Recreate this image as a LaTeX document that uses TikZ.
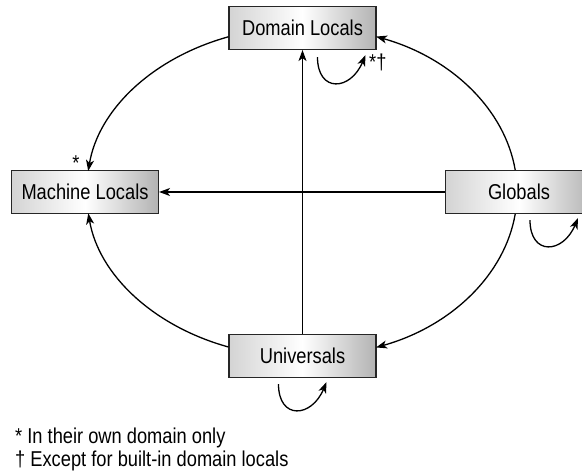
\documentclass[tikz,border=0pt]{standalone}
\usepackage{fontspec}
\setmainfont[FakeStretch=0.85]{Liberation Sans}
\usetikzlibrary{arrows.meta,calc}
\begin{document}
\begin{tikzpicture}[x=1pt,y=1pt,
  box/.style={draw=black!85, line width=1.1pt, minimum width=147pt, minimum height=43pt,
    inner sep=0pt, left color=black!17, right color=black!30, middle color=white,
    font=\fontsize{21.5}{24}\selectfont},
  arr/.style={line width=1.3pt, -{Stealth[length=11pt,width=8pt,inset=3pt]}},
  lbl/.style={font=\fontsize{21.5}{24}\selectfont, inner sep=0pt}
]
\useasboundingbox (0,0) rectangle (582,-473);
\node[box] (dl) at (302.5,-28) {Domain Locals};
\node[box] (ml) at (85,-192) {Machine Locals};
\node[box] (gl) at (519,-192) {Globals};
\node[box] (un) at (302.5,-356) {Universals};
% straight connectors
\draw[arr] (gl.west) -- (ml.east);
\draw[arr] (un.north) -- (dl.south);
% elliptical connectors (centre (302,-192), radii 215 x 165)
\coordinate (dlw) at ([yshift=-8.8pt]dl.west);
\coordinate (dle) at ([yshift=-9.1pt]dl.east);
\coordinate (uw) at ([yshift=9pt]un.west);
\coordinate (ue) at ([yshift=9pt]un.east);
\coordinate (gn) at ($(gl.north)+(-3.8,0)$);
\coordinate (gs) at ($(gl.south)+(-3.8,0)$);
\draw[arr] (dlw) arc[start angle=109.85, end angle=172.69, x radius=215pt, y radius=165pt];
\draw[arr] (gn) arc[start angle=7.49, end angle=69.87, x radius=215pt, y radius=165pt];
\draw[arr] (gs) arc[start angle=-7.49, end angle=-69.87, x radius=215pt, y radius=165pt];
\draw[arr] (uw) arc[start angle=250.15, end angle=187.49, x radius=215pt, y radius=165pt];
% self loops
\coordinate (dla) at ($(dl.south)+(15,-7)$);
\coordinate (dlb) at ($(dl.south)+(63,-5)$);
\draw[arr] (dla) .. controls +(0,-36) and +(-15,-36) .. (dlb);
\coordinate (gla) at ($(gl.south)+(11,-6)$);
\coordinate (glb) at ($(gl.south)+(59,-4)$);
\draw[arr] (gla) .. controls +(0,-36) and +(-15,-36) .. (glb);
\coordinate (una) at ($(un.south)+(-24,-6)$);
\coordinate (unb) at ($(un.south)+(24,-4)$);
\draw[arr] (una) .. controls +(0,-36) and +(-15,-36) .. (unb);
% labels
\node[lbl, anchor=west] (dlnote) at (369,-62) {*†};
\node[lbl, anchor=center] (mlnote) at (76,-163) {*};
\node[lbl, anchor=base west] (fn1) at (15,-444) {*\ In their own domain only};
\node[lbl, anchor=base west] (fn2) at (15,-467) {†\ Except for built-in domain locals};
\end{tikzpicture}
\end{document}
